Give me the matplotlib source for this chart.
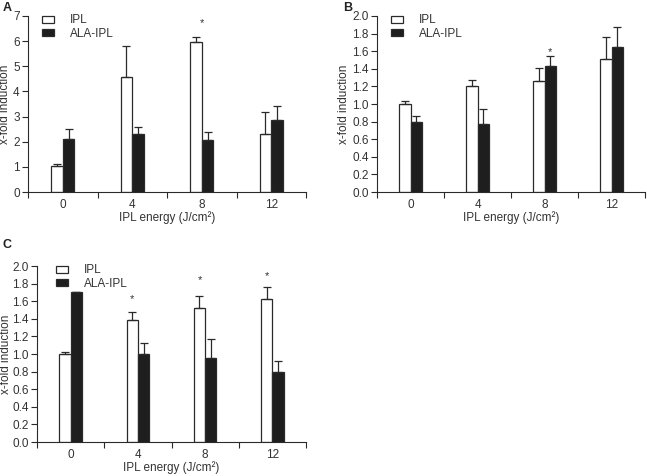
import numpy as np
import matplotlib
matplotlib.use("Agg")
import matplotlib.pyplot as plt
import matplotlib.patches as mpatches

plt.rcParams["font.family"] = ["Liberation Sans", "DejaVu Sans"]
plt.rcParams["font.size"] = 8

categories = ["0", "4", "8", "12"]

# panel A
a_ipl = [1.04, 4.58, 5.96, 2.30]
a_ipl_err = [0.07, 1.24, 0.19, 0.87]
a_ala = [2.10, 2.30, 2.06, 2.86]
a_ala_err = [0.40, 0.28, 0.31, 0.58]
a_stars = [(2, 6.73)]

# panel B
b_ipl = [1.00, 1.20, 1.26, 1.51]
b_ipl_err = [0.035, 0.075, 0.145, 0.25]
b_ala = [0.80, 0.77, 1.43, 1.65]
b_ala_err = [0.06, 0.17, 0.115, 0.23]
b_stars = [(2.084, 1.59)]

# panel C
c_ipl = [1.00, 1.39, 1.52, 1.62]
c_ipl_err = [0.025, 0.09, 0.135, 0.14]
c_ala = [1.70, 1.00, 0.95, 0.80]
c_ala_err = [0.005, 0.12, 0.22, 0.12]
c_stars = [(0.916, 1.62), (1.916, 1.84), (2.916, 1.89)]

DARK = "#2a2a2a"
TXT = "#333333"
W = 0.168


def draw_panel(ax, ipl, ipl_err, ala, ala_err, stars, ymax, ystep, fmt, legend_x, ylab_x):
    x = np.arange(len(categories))
    zeros = np.zeros(len(categories))
    ax.bar(x - W / 2, ipl, W, color="white", edgecolor=DARK, linewidth=0.9,
           yerr=[zeros, ipl_err], error_kw=dict(ecolor=DARK, elinewidth=0.9, capsize=3, capthick=0.9))
    ax.bar(x + W / 2, ala, W, color="#1e1e1e", edgecolor=DARK, linewidth=0.9,
           yerr=[zeros, ala_err], error_kw=dict(ecolor=DARK, elinewidth=0.9, capsize=3, capthick=0.9))
    for sx, sy in stars:
        ax.text(sx, sy, "*", ha="center", va="center", fontsize=8, color=TXT)

    ax.set_xlim(-0.5, len(categories) - 0.5)
    ax.set_ylim(0, ymax)
    ticks = np.arange(0, ymax + ystep / 2, ystep)
    ax.set_yticks(ticks)
    ax.set_yticklabels([fmt.format(v) for v in ticks])
    ax.set_xticks(np.arange(-0.5, len(categories), 1.0))
    ax.set_xticklabels([])
    ax.set_xticks(x, minor=True)
    ax.set_xticklabels(categories, minor=True)
    ax.tick_params(axis="x", which="major", length=4, width=0.8, color=DARK)
    ax.tick_params(axis="x", which="minor", length=0, pad=5, labelcolor=TXT, labelsize=8.5)
    ax.tick_params(axis="y", length=4, width=0.8, color=DARK, labelcolor=TXT, labelsize=8.5, pad=2)
    for s in ["top", "right"]:
        ax.spines[s].set_visible(False)
    for s in ["left", "bottom"]:
        ax.spines[s].set_color(DARK)
        ax.spines[s].set_linewidth(0.8)

    ax.set_ylabel("x-fold induction", color=TXT, fontsize=8.5)
    ax.yaxis.set_label_coords(ylab_x, 0.5)
    ax.set_xlabel("IPL energy (J/cm²)", color=TXT, fontsize=8.5, labelpad=0.5)

    handles = [
        mpatches.Patch(facecolor="white", edgecolor=DARK, linewidth=0.9, label="IPL"),
        mpatches.Patch(facecolor="#1e1e1e", edgecolor=DARK, linewidth=0.9, label="ALA-IPL"),
    ]
    leg = ax.legend(handles=handles, loc="upper left", bbox_to_anchor=(legend_x, 1.01),
                    frameon=False, handlelength=1.0, handleheight=0.55, handletextpad=1.4,
                    labelspacing=0.15, borderaxespad=0, borderpad=0, fontsize=8.5)
    for t in leg.get_texts():
        t.set_color(TXT)


fig = plt.figure(figsize=(6.47, 4.76), dpi=100)
ax_a = fig.add_axes([0.0433, 0.5966, 0.4297, 0.3698])
ax_b = fig.add_axes([0.5827, 0.5966, 0.4143, 0.3698])
ax_c = fig.add_axes([0.0572, 0.0714, 0.4158, 0.3697])

draw_panel(ax_a, a_ipl, a_ipl_err, a_ala, a_ala_err, a_stars, 7, 1, "{:.0f}", 0.05, -0.061)
draw_panel(ax_b, b_ipl, b_ipl_err, b_ala, b_ala_err, b_stars, 2.0, 0.2, "{:.1f}", 0.052, -0.10)
draw_panel(ax_c, c_ipl, c_ipl_err, c_ala, c_ala_err, c_stars, 2.0, 0.2, "{:.1f}", 0.07, -0.092)

fig.text(0.004, 0.995, "A", fontsize=9, fontweight="bold", va="top", color="#222222")
fig.text(0.530, 0.995, "B", fontsize=9, fontweight="bold", va="top", color="#222222")
fig.text(0.004, 0.497, "C", fontsize=9, fontweight="bold", va="top", color="#222222")

fig.savefig("out.png", dpi=100)
